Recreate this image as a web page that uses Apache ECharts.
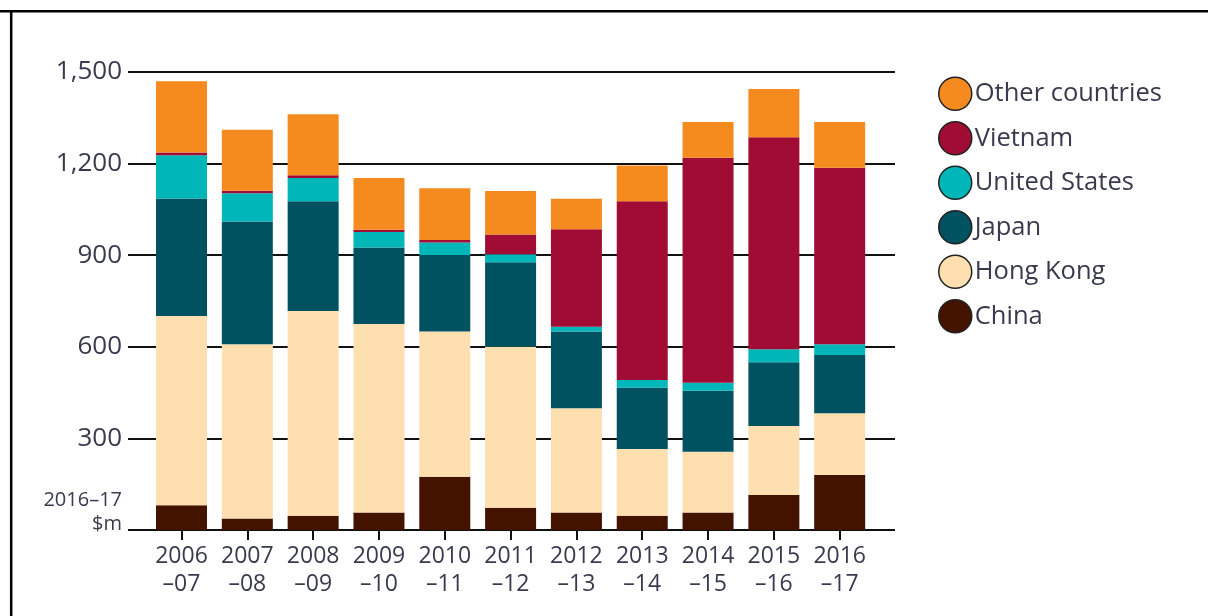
<!DOCTYPE html>
<html>
<head>
<meta charset="utf-8">
<script src="https://cdn.jsdelivr.net/npm/echarts@6/dist/echarts.min.js"></script>
<style>
html,body{margin:0;padding:0;background:#fff;}
#chart{width:1208px;height:616px;}
</style>
</head>
<body>
<div id="chart"></div>
<script>
const categories = ['2006\n–07','2007\n–08','2008\n–09','2009\n–10','2010\n–11','2011\n–12','2012\n–13','2013\n–14','2014\n–15','2015\n–16','2016\n–17'];
const china         = [81, 38, 47, 57, 174, 73, 57, 47, 57, 115, 180];
const hongKong      = [620, 570, 670, 618, 476, 527, 342, 218, 199, 226, 202];
const japan         = [385, 402, 360, 250, 251, 277, 251, 201, 200, 208, 191];
const unitedStates  = [141, 93, 76, 51, 41, 26, 16, 25, 26, 43, 35];
const vietnam       = [9, 8, 9, 7, 8, 65, 319, 586, 737, 694, 578];
const otherCountries= [234, 200, 200, 170, 169, 142, 100, 117, 117, 158, 150];
const yTicks = {min: 0, max: 1500, interval: 300};
const unitLabel = '2016–17\n$m';

const FONT = 'Open Sans';
const TXT = '#3a3a4e';

const seriesDefs = [
  {name: 'China', data: china, color: '#431300'},
  {name: 'Hong Kong', data: hongKong, color: '#FDDFB0'},
  {name: 'Japan', data: japan, color: '#005260'},
  {name: 'United States', data: unitedStates, color: '#00B6B9'},
  {name: 'Vietnam', data: vietnam, color: '#A00C33'},
  {name: 'Other countries', data: otherCountries, color: '#F58B1F'}
];

const chart = echarts.init(document.getElementById('chart'), null, {renderer: 'canvas'});
chart.setOption({
  animation: false,
  backgroundColor: '#fff',
  textStyle: {fontFamily: FONT},
  legend: {
    orient: 'vertical',
    left: 933, top: 71.5,
    itemWidth: 33, itemHeight: 33, itemGap: 10,
    icon: 'circle',
    itemStyle: {borderColor: '#222', borderWidth: 1.5},
    textStyle: {fontFamily: FONT, fontSize: 25.5, lineHeight: 33, color: TXT, padding: [0,0,0,-2]},
    data: ['Other countries','Vietnam','United States','Japan','Hong Kong','China']
  },
  grid: [
    {left: 128, right: 313, top: 72, bottom: 86},
    {left: 148.6, right: 335.4, top: 72, bottom: 86}
  ],
  xAxis: [
    {gridIndex: 0, type: 'category', data: categories, show: false},
    {gridIndex: 1, type: 'category', data: categories,
     axisLine: {show: false},
     axisTick: {show: true, alignWithLabel: true, length: 10, lineStyle: {color: '#111', width: 2}},
     axisLabel: {fontFamily: FONT, fontSize: 23, lineHeight: 28, color: TXT, margin: 12, interval: 0}}
  ],
  yAxis: [
    {gridIndex: 0, type: 'value', min: yTicks.min, max: yTicks.max, interval: yTicks.interval,
     axisLine: {show: false}, axisTick: {show: false},
     splitLine: {show: true, lineStyle: {color: '#111', width: 2}},
     axisLabel: {fontFamily: FONT, fontSize: 26, color: TXT, margin: 6,
       formatter: v => v === 0 ? '' : v.toLocaleString('en-US')}},
    {gridIndex: 1, type: 'value', min: yTicks.min, max: yTicks.max, interval: yTicks.interval, show: false, splitLine: {show: false}}
  ],
  series: seriesDefs.map(s => ({
    name: s.name, type: 'bar', stack: 'total',
    xAxisIndex: 1, yAxisIndex: 1,
    barWidth: 51,
    data: s.data,
    itemStyle: {color: s.color},
    emphasis: {disabled: true}
  })),
  graphic: [
    {type: 'line', shape: {x1: 0, y1: 11.2, x2: 1208, y2: 11.2}, style: {stroke: '#000', lineWidth: 2.5}},
    {type: 'line', shape: {x1: 11.2, y1: 10, x2: 11.2, y2: 616}, style: {stroke: '#000', lineWidth: 2.5}},
    {type: 'text', right: 1208 - 122, top: 488,
     style: {text: unitLabel, fontFamily: FONT, fontSize: 20, lineHeight: 24, fill: TXT, textAlign: 'right'}}
  ]
});
</script>
</body>
</html>
